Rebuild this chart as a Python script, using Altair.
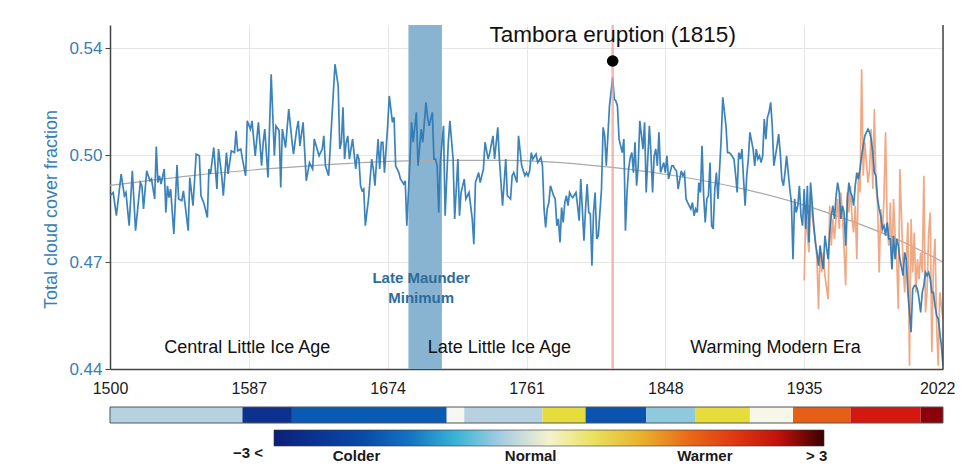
import altair as alt
import pandas as pd

# ---------------- data ----------------
blue_years = [
    1500, 1502, 1504, 1507, 1509, 1510, 1512, 1514, 1516, 1519, 1520, 1521, 1523, 1525, 1526, 1528, 1529, 1530,
    1531, 1532, 1534, 1535, 1536, 1537, 1538, 1540, 1542, 1543, 1545, 1546, 1549, 1550, 1552, 1554, 1556, 1557,
    1559, 1561, 1562, 1563, 1565, 1567, 1568, 1570, 1571, 1573, 1574, 1576, 1578, 1579, 1580, 1582, 1583, 1585,
    1586, 1588, 1589, 1591, 1593, 1595, 1596, 1597, 1599, 1601, 1603, 1604, 1606, 1607, 1608, 1610, 1612, 1614,
    1615, 1617, 1618, 1619, 1621, 1623, 1625, 1627, 1628,
    1631, 1633, 1634, 1635, 1637, 1639, 1641, 1643, 1644, 1645, 1646, 1647, 1648, 1649, 1650, 1652, 1654, 1655,
    1656, 1657, 1658, 1659, 1660, 1662, 1663, 1664, 1665, 1666, 1668, 1669, 1670, 1671, 1672, 1674, 1675, 1677,
    1678, 1679, 1681, 1682, 1684, 1685, 1686, 1688, 1689, 1690, 1692, 1693, 1695, 1696, 1698, 1699, 1700, 1702,
    1703, 1704, 1705, 1706, 1707, 1709, 1710, 1712, 1713, 1715, 1716, 1718, 1719, 1720, 1722, 1723, 1725, 1727,
    1728, 1729, 1731, 1732, 1734, 1735, 1737, 1738, 1740, 1741, 1743, 1744, 1746, 1748, 1749, 1751, 1752, 1753,
    1755, 1756, 1758, 1760,
    1761, 1762, 1763, 1764, 1765, 1767, 1768, 1770, 1771, 1772, 1773, 1774, 1775, 1776, 1778, 1779, 1780, 1781,
    1782, 1783, 1784, 1785, 1786, 1787, 1788, 1789, 1790, 1792, 1793, 1794, 1795, 1797, 1798, 1799, 1800, 1801,
    1802, 1803, 1804, 1805, 1806, 1808, 1809, 1810, 1811, 1813, 1815, 1816, 1817, 1818, 1819, 1820, 1821, 1822,
    1823, 1824, 1825, 1826, 1827, 1828, 1829, 1830, 1831, 1832, 1834, 1835, 1836, 1838, 1839, 1840, 1841, 1842,
    1843, 1844, 1845, 1847, 1848, 1849, 1850, 1852, 1853, 1854, 1855, 1856, 1858, 1859, 1860, 1861, 1862, 1864,
    1865, 1866, 1867, 1868, 1869, 1870, 1871, 1872, 1873, 1874, 1875, 1876, 1877, 1878, 1879, 1880, 1881, 1883,
    1884, 1886, 1887, 1888, 1889,
    1891, 1892, 1893, 1894, 1895, 1896, 1897, 1898, 1899, 1900, 1901, 1903, 1904, 1905, 1906, 1907, 1908, 1909,
    1910, 1911, 1912, 1913, 1914, 1915, 1916, 1917, 1918, 1919, 1920, 1921, 1922, 1923, 1924, 1926, 1927, 1928,
    1929, 1930, 1931, 1932, 1933, 1934, 1935, 1936, 1937, 1938, 1939, 1940, 1941, 1942, 1943, 1944, 1945, 1946,
    1947, 1948, 1950, 1951, 1952, 1953, 1954, 1955, 1956, 1957, 1958, 1959, 1960, 1961, 1962, 1963, 1964, 1965,
    1966, 1967, 1968, 1969, 1970, 1971, 1972, 1973, 1975, 1976, 1977, 1978, 1979, 1980, 1981, 1982, 1983, 1984,
    1985, 1986, 1987, 1988, 1989, 1990, 1991, 1992, 1993, 1994, 1995, 1997, 1998, 1999, 2000, 2001, 2002, 2003,
    2004, 2005, 2006, 2007, 2008, 2009, 2010, 2011, 2012, 2013, 2014, 2015, 2016, 2017, 2018, 2019, 2020, 2021,
    2022,
]
blue_values = [
    0.4886, 0.4895, 0.4830, 0.4947, 0.4886, 0.4895, 0.4802, 0.4956, 0.4788, 0.4923, 0.4914, 0.4849, 0.4956, 0.4928,
    0.4933, 0.4877, 0.5024, 0.4923, 0.4942, 0.4919, 0.4961, 0.4839, 0.4914, 0.4881, 0.4905, 0.4779, 0.4972, 0.4877,
    0.4872, 0.4900, 0.4788, 0.4937, 0.4858, 0.5003, 0.4998, 0.4886, 0.4863, 0.4825, 0.4961, 0.4947, 0.5021, 0.4905,
    0.5017, 0.4942, 0.4886, 0.5007, 0.4947, 0.5012, 0.5007, 0.5068, 0.5012, 0.5017, 0.4989, 0.4942, 0.5096, 0.5073,
    0.5096, 0.4998, 0.5092, 0.4970, 0.5036, 0.5073, 0.4937, 0.5227, 0.4998, 0.5082, 0.5068, 0.4909, 0.5073, 0.5021,
    0.5129, 0.5040, 0.5003, 0.5073, 0.5096, 0.5026, 0.5092, 0.4928, 0.4979, 0.4961, 0.5045,
    0.4998, 0.5017, 0.5054, 0.4970, 0.4942, 0.5101, 0.5255, 0.5194, 0.5017, 0.5036, 0.5134, 0.4989, 0.5036, 0.5054,
    0.4989, 0.5045, 0.4961, 0.5003, 0.4989, 0.4914, 0.4900, 0.4905, 0.4802, 0.4877, 0.4933, 0.4989, 0.4961, 0.4914,
    0.5045, 0.4961, 0.5036, 0.5036, 0.4951, 0.5082, 0.5166, 0.5092, 0.5106, 0.4970, 0.4951, 0.4933, 0.4919, 0.4928,
    0.4802, 0.4989, 0.5092, 0.5036, 0.5120, 0.4970, 0.5073, 0.5036, 0.5148, 0.5106, 0.5082, 0.5120, 0.4989, 0.4989,
    0.4970, 0.4839, 0.4979, 0.5082, 0.4830, 0.5036, 0.5096, 0.4989, 0.4821, 0.4989, 0.4830, 0.4895, 0.4933, 0.4877,
    0.4895, 0.4821, 0.4750, 0.4923, 0.4951, 0.4923, 0.4961, 0.5036, 0.4989, 0.5007, 0.5054, 0.4989, 0.5078, 0.4989,
    0.4858, 0.4989, 0.4886, 0.4877, 0.4942, 0.4951, 0.4923, 0.5054, 0.4970, 0.4942,
    0.4951, 0.4942, 0.4956, 0.5007, 0.4989, 0.5003, 0.4979, 0.4993, 0.4970, 0.4849, 0.4797, 0.4849, 0.4867, 0.4914,
    0.4886, 0.4877, 0.4802, 0.4821, 0.4755, 0.4853, 0.4811, 0.4867, 0.4886, 0.4858, 0.4895, 0.4886, 0.4881, 0.4895,
    0.4858, 0.4816, 0.4933, 0.4760, 0.4849, 0.4919, 0.4839, 0.4835, 0.4690, 0.4839, 0.4895, 0.4765, 0.4774, 0.4905,
    0.5078, 0.5054, 0.4970, 0.5138, 0.5218, 0.5157, 0.5152, 0.5138, 0.5045, 0.5026, 0.5007, 0.5045, 0.4788, 0.4895,
    0.4961, 0.4993, 0.5007, 0.4951, 0.5036, 0.4914, 0.4970, 0.5096, 0.5017, 0.5092, 0.4895, 0.5082, 0.5003, 0.4895,
    0.4998, 0.5017, 0.4970, 0.5064, 0.4951, 0.4979, 0.4951, 0.4998, 0.4933, 0.4970, 0.4970, 0.4961, 0.4956, 0.4905,
    0.4956, 0.4942, 0.4951, 0.4877, 0.4867, 0.4849, 0.4867, 0.4830, 0.4849, 0.4839, 0.4923, 0.4895, 0.5026, 0.4886,
    0.4811, 0.4877, 0.4886, 0.4979, 0.4802, 0.4793, 0.4905, 0.4951, 0.4877, 0.5045, 0.5162, 0.5082, 0.5007, 0.5007,
    0.5003,
    0.4989, 0.4947, 0.4895, 0.5007, 0.4989, 0.5017, 0.4933, 0.4858, 0.4942, 0.4989, 0.5064, 0.5017, 0.4970, 0.5017,
    0.4989, 0.4998, 0.4979, 0.4998, 0.5101, 0.5045, 0.5106, 0.5120, 0.5148, 0.5082, 0.4970, 0.4998, 0.5026, 0.5059,
    0.5007, 0.4933, 0.4914, 0.4951, 0.4998, 0.4905, 0.4867, 0.4708, 0.4877, 0.4839, 0.4858, 0.4914, 0.4830, 0.4802,
    0.4905, 0.4793, 0.4914, 0.4755, 0.4923, 0.4867, 0.4802, 0.4755, 0.4727, 0.4690, 0.4746, 0.4708, 0.4680, 0.4774,
    0.4708, 0.4783, 0.4830, 0.4858, 0.4821, 0.4886, 0.4923, 0.4895, 0.4821, 0.4858, 0.4839, 0.4746, 0.4867, 0.4923,
    0.4895, 0.4886, 0.4858, 0.4914, 0.4951, 0.4933, 0.4961, 0.4998, 0.5026, 0.5054, 0.5073, 0.5064, 0.5045, 0.5007,
    0.4951, 0.4942, 0.4877, 0.4849, 0.4830, 0.4793, 0.4802, 0.4774, 0.4811, 0.4765, 0.4765, 0.4680, 0.4774, 0.4708,
    0.4765, 0.4746, 0.4708, 0.4662, 0.4727, 0.4708, 0.4615, 0.4559, 0.4503, 0.4624, 0.4634, 0.4634, 0.4624, 0.4596,
    0.4559, 0.4615, 0.4634, 0.4671, 0.4662, 0.4671, 0.4652, 0.4615, 0.4615, 0.4578, 0.4550, 0.4540, 0.4503, 0.4465,
    0.4409,
]
orange_years = [
    1935, 1936, 1938, 1939, 1940, 1942, 1943, 1944, 1945, 1946, 1947, 1948, 1950, 1951, 1952, 1953, 1954, 1956,
    1957, 1958, 1959, 1960, 1961, 1962, 1963, 1964, 1965, 1966, 1967, 1968, 1969, 1970, 1971, 1972, 1973, 1975,
    1976, 1977, 1978, 1979, 1980, 1981, 1982, 1983, 1984, 1985, 1986, 1987, 1988, 1989, 1990, 1991, 1992, 1993,
    1994, 1995, 1997, 1998, 1999, 2000, 2001, 2002, 2003, 2004, 2005, 2006, 2007, 2008, 2009, 2010, 2011, 2012,
    2013, 2014, 2015, 2016, 2017, 2018, 2019, 2020, 2021, 2022,
]
orange_values = [
    0.4648, 0.4830, 0.4727, 0.4895, 0.4830, 0.4765, 0.4708, 0.4568, 0.4746, 0.4671, 0.4727, 0.4662, 0.4596, 0.4858,
    0.4746, 0.4821, 0.4765, 0.4877, 0.4793, 0.4895, 0.4830, 0.4736, 0.4634, 0.4895, 0.4839, 0.4914, 0.4821, 0.4783,
    0.4858, 0.4708, 0.4951, 0.4895, 0.5241, 0.4942, 0.5036, 0.4923, 0.4961, 0.5073, 0.4905, 0.5129, 0.4914, 0.4867,
    0.4671, 0.4849, 0.4783, 0.4877, 0.5064, 0.4811, 0.4746, 0.4867, 0.4680, 0.4877, 0.4774, 0.4708, 0.4568, 0.4961,
    0.4690, 0.4615, 0.4708, 0.4811, 0.4409, 0.4821, 0.4671, 0.4783, 0.4615, 0.4708, 0.4652, 0.4727, 0.4671, 0.4942,
    0.4559, 0.4615, 0.4783, 0.4839, 0.4447, 0.4690, 0.4765, 0.4522, 0.4409, 0.4615, 0.4578, 0.4540,
]
trend_years = [1500, 1550, 1600, 1650, 1700, 1750, 1800, 1850, 1900, 1950, 2000, 2022]
trend_values = [0.4915, 0.4942, 0.4962, 0.4977, 0.4985, 0.4985, 0.4972, 0.4945, 0.4902, 0.4838, 0.4750, 0.4700]

x_ticks = [1500, 1587, 1674, 1761, 1848, 1935, 2022]
y_ticks = [0.44, 0.47, 0.50, 0.53]
y_tick_labels = ["0.44", "0.47", "0.50", "0.54"]

strip_start = [1500, 1583, 1614, 1711, 1722, 1771, 1798, 1836, 1867, 1901, 1928, 1964, 2008]
strip_end = [1583, 1614, 1711, 1722, 1771, 1798, 1836, 1867, 1901, 1928, 1964, 2008, 2022]
strip_anomaly = [-0.45, -2.6, -1.75, -0.2, -0.45, 0.6, -1.85, -0.6, 0.6, -0.15, 1.6, 2.35, 2.8]

legend_low_label = "−3 <"
legend_values = [-2.1, -0.2, 1.7, 2.92]
legend_labels = ["Colder", "Normal", "Warmer", "> 3"]

era_names = ["Central Little Ice Age", "Late Little Ice Age", "Warming Modern Era"]
era_years = [1586, 1744, 1917]
era_value = 0.4459

band_start = [1687]
band_end = [1708]
band_label = ["Late Maunder\nMinimum"]
band_label_year = [1695]
band_label_value = [0.4655]

eruption_year = [1815]
eruption_peak = [0.5264]
eruption_label = ["Tambora eruption (1815)"]
eruption_label_value = [0.5336]

# ---------------- styling ----------------
W, H = 833, 344
FONT = "Liberation Sans"
BLUE_TXT = "#3a7db5"

color_domain = [-3, -2.4, -1.8, -1.4, -1.05, -0.7, -0.45, -0.2, 0.15, 0.6, 1.0, 1.35, 1.7, 2.3, 2.75, 3]
color_range = ["#0b1f78", "#0a3a9a", "#0b55b0", "#1f80c8", "#30b2d6", "#70c4d8", "#b6d1e2", "#f7f7f2",
               "#f4efb0", "#e6dc3c", "#e9b22e", "#e8801e", "#e65016", "#dc1a10", "#a00808", "#3a0000"]

xscale = alt.Scale(domain=[x_ticks[0], x_ticks[-1]], nice=False, zero=False)
yscale = alt.Scale(domain=[0.44, 0.5365], nice=False, zero=False)


def chain_expr(values, labels):
    parts = []
    for i in range(len(values) - 1):
        mid = (values[i] + values[i + 1]) / 2
        parts.append(f"datum.value < {mid} ? '{labels[i]}' : ")
    return "".join(parts) + f"'{labels[-1]}'"


last_tick_test = f"datum.value >= {x_ticks[-1]}"
xaxis = alt.Axis(
    values=x_ticks, format="d", title=None, ticks=False, tickSize=0, labelPadding=11,
    labelFontSize=16, labelColor="#1a1a1a", labelFont=FONT, labelFlush=False,
    labelAlign={"condition": {"test": last_tick_test, "value": "right"}, "value": "center"},
    labelOffset={"condition": {"test": last_tick_test, "value": 12}, "value": 0},
    domainColor="#444444", domainWidth=1.5, gridColor="#e6e6e6", grid=True)
yaxis = alt.Axis(
    values=y_ticks, labelExpr=chain_expr(y_ticks, y_tick_labels),
    title="Total cloud cover fraction", titleColor=BLUE_TXT, titleFontSize=18,
    titleFont=FONT, titleFontWeight="normal", titlePadding=8, titleY=184,
    labelFontSize=17, labelColor=BLUE_TXT, labelFont=FONT, labelPadding=3,
    tickSize=5, tickColor="#444444", domainColor="#444444", domainWidth=1.5,
    gridColor="#e6e6e6", grid=True)

blue_df = pd.DataFrame({"year": blue_years, "value": blue_values})
orange_df = pd.DataFrame({"year": orange_years, "value": orange_values})
trend_df = pd.DataFrame({"year": trend_years, "value": trend_values})
strip_df = pd.DataFrame({"start": strip_start, "end": strip_end, "anomaly": strip_anomaly})
outline_df = pd.DataFrame({"start": [strip_start[0]], "end": [strip_end[-1]]})
era_df = pd.DataFrame({"year": era_years, "value": [era_value] * len(era_years), "name": era_names})
band_df = pd.DataFrame({"start": band_start, "end": band_end})
band_txt_df = pd.DataFrame({"year": band_label_year, "value": band_label_value, "t": band_label})
erupt_df = pd.DataFrame({"year": eruption_year, "value": eruption_peak})
erupt_txt_df = pd.DataFrame({"year": eruption_year, "value": eruption_label_value, "t": eruption_label})
border_df = pd.DataFrame({"year": [x_ticks[-1]]})

X = lambda f: alt.X(f, scale=xscale, axis=xaxis)
Y = lambda f: alt.Y(f, scale=yscale, axis=yaxis)

band = alt.Chart(band_df).mark_rect(color="#88b4d1").encode(
    x=X("start:Q"), x2="end:Q", y=alt.value(0), y2=alt.value(H))

trend = alt.Chart(trend_df).mark_line(color="#a9a9a9", strokeWidth=1.2, interpolate="monotone").encode(
    x=X("year:Q"), y=Y("value:Q"))

orange = alt.Chart(orange_df).mark_line(color="#eea078", strokeWidth=1.7, opacity=0.9, clip=True).encode(
    x=X("year:Q"), y=Y("value:Q"))

blue = alt.Chart(blue_df).mark_line(color="#2a78b4", strokeWidth=1.7, opacity=0.92, clip=True).encode(
    x=X("year:Q"), y=Y("value:Q"))

erupt_rule = alt.Chart(erupt_df).mark_rule(color="#f0a096", strokeWidth=2.5, opacity=0.75).encode(
    x=X("year:Q"))

erupt_dot = alt.Chart(erupt_df).mark_circle(color="black", size=135, opacity=1).encode(
    x=X("year:Q"), y=Y("value:Q"))

erupt_txt = alt.Chart(erupt_txt_df).mark_text(
    font=FONT, fontSize=22.5, color="#111111", baseline="middle", align="center").encode(
    x=X("year:Q"), y=Y("value:Q"), text="t:N")

era_txt = alt.Chart(era_df).mark_text(
    font=FONT, fontSize=18, color="#111111", baseline="middle", align="center").encode(
    x=X("year:Q"), y=Y("value:Q"), text="name:N")

band_txt = alt.Chart(band_txt_df).mark_text(
    font=FONT, fontSize=15, fontWeight="bold", color="#2c6d9c", baseline="middle", align="center",
    lineBreak="\n", lineHeight=20).encode(
    x=X("year:Q"), y=Y("value:Q"), text="t:N")

border = alt.Chart(border_df).mark_rule(color="#444444", strokeWidth=1.5).encode(x=X("year:Q"))

strip = alt.Chart(strip_df).mark_rect().encode(
    x=X("start:Q"), x2="end:Q", y=alt.value(H + 38), y2=alt.value(H + 54),
    color=alt.Color("anomaly:Q", scale=alt.Scale(domain=color_domain, range=color_range, type="linear"),
                    legend=alt.Legend(
                        orient="none", legendX=123, legendY=405, direction="horizontal",
                        title=legend_low_label, titleOrient="left", titleAnchor="end", titleBaseline="top",
                        titleFont=FONT, titleFontSize=15, titleFontWeight="bold", titleColor="#1a1a1a",
                        titlePadding=10,
                        gradientLength=550, gradientThickness=16, gradientStrokeColor="#333333",
                        gradientStrokeWidth=0.6, values=legend_values,
                        labelExpr=chain_expr(legend_values, legend_labels),
                        labelFont=FONT, labelFontSize=15, labelFontWeight="bold", labelColor="#1a1a1a",
                        labelOffset=3, padding=0, labelOverlap=False)),
)

outline = alt.Chart(outline_df).mark_rect(fill=None, stroke="#555555", strokeWidth=1).encode(
    x=X("start:Q"), x2="end:Q", y=alt.value(H + 38), y2=alt.value(H + 54))

chart = alt.layer(
    band, trend, orange, blue, erupt_rule, erupt_dot, erupt_txt, era_txt, band_txt, border, strip, outline
).properties(
    width=W, height=H,
    autosize=alt.AutoSizeParams(type="none"),
    padding={"left": 102, "top": 17, "right": 12, "bottom": 95},
).configure_view(stroke=None)

chart.save("out.html", embed_options={"renderer": "svg", "actions": False})
